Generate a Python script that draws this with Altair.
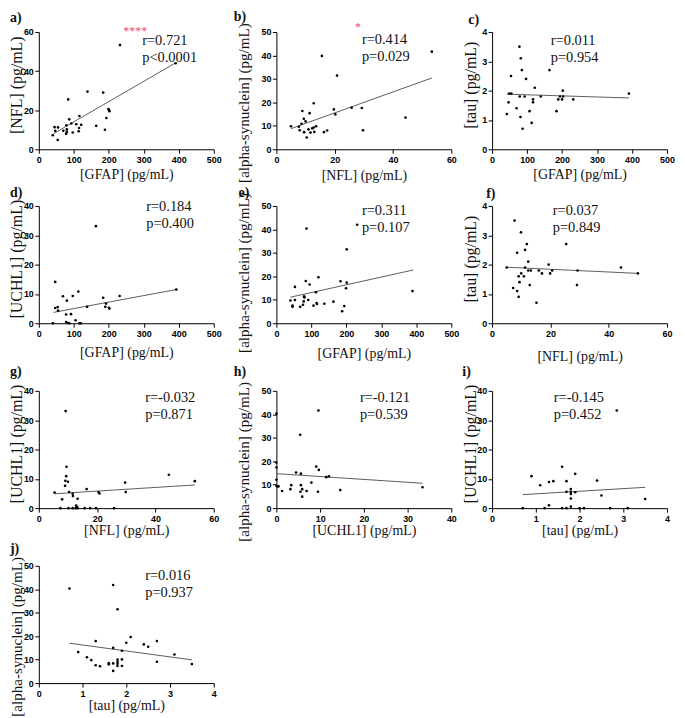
import altair as alt
import pandas as pd

# ---------------- data ----------------
# a) GFAP vs NFL
a_x = [232, 391, 139, 184, 84, 200, 202, 199, 116, 87, 193, 45, 55, 47, 79, 93, 107, 121, 164, 80, 80, 78, 70, 97, 114, 115, 189, 54, 40]
a_y = [53.3, 44.0, 29.5, 29.0, 25.5, 20.2, 19.5, 20.6, 17.0, 15.3, 16.0, 11.3, 11.2, 9.5, 12.3, 13.2, 12.8, 12.5, 12.0, 10.2, 8.9, 7.9, 9.5, 8.6, 9.2, 10.9, 10.0, 4.8, 7.2]
a_fx = [42, 391]
a_fy = [8.0, 44.2]

# b) NFL vs alpha-synuclein
b_x = [53.3, 15.6, 20.8, 12.8, 19.7, 20.2, 25.8, 29.3, 44.3, 29.7, 8.9, 11.4, 5.0, 7.7, 8.6, 9.4, 10.0, 8.0, 9.5, 10.4, 11.0, 11.7, 12.3, 13.0, 13.6, 12.8, 16.3, 17.4]
b_y = [41.6, 39.8, 31.4, 19.6, 17.0, 14.9, 17.7, 17.6, 13.5, 8.1, 16.3, 15.4, 9.8, 9.6, 10.9, 13.0, 11.9, 8.1, 7.3, 5.0, 8.5, 7.1, 8.9, 7.4, 9.8, 9.3, 7.3, 8.0]
b_fx = [5.0, 53.3]
b_fy = [8.8, 30.4]

# c) GFAP vs tau
c_x = [78, 82, 85, 164, 54, 97, 122, 49, 55, 79, 93, 139, 194, 203, 117, 117, 189, 200, 232, 202, 47, 70, 107, 184, 42, 81, 113, 87, 391]
c_y = [3.5, 3.1, 2.7, 2.7, 2.5, 2.4, 2.1, 1.9, 1.9, 1.8, 1.8, 1.8, 1.8, 1.8, 1.7, 1.6, 1.7, 1.7, 1.7, 2.0, 1.6, 1.4, 1.3, 1.3, 1.2, 1.1, 0.9, 0.7, 1.9]
c_fx = [42, 391]
c_fy = [1.88, 1.75]

# d) GFAP vs UCHL1
d_x = [163, 47, 69, 97, 113, 80, 184, 231, 192, 190, 200, 202, 138, 47, 54, 55, 78, 92, 105, 78, 83, 87, 116, 120, 40, 393]
d_y = [33.1, 14.1, 9.2, 9.3, 10.8, 7.7, 8.7, 9.3, 6.7, 5.6, 5.3, 5.0, 5.6, 5.2, 5.5, 4.3, 3.0, 3.1, 1.0, 0.4, 0.1, 0.0, 0.0, 0.0, 0.0, 11.5]
d_fx = [42, 393]
d_fy = [3.7, 11.5]

# e) GFAP vs alpha-synuclein
e_x = [86, 231, 201, 120, 84, 183, 201, 95, 53, 199, 113, 79, 80, 40, 53, 91, 78, 76, 46, 46, 68, 106, 115, 116, 137, 163, 194, 188, 389]
e_y = [40.4, 42.0, 31.5, 19.6, 18.0, 17.9, 17.3, 16.5, 15.5, 14.9, 13.2, 11.5, 11.0, 9.7, 9.9, 9.9, 9.3, 7.9, 7.5, 7.0, 7.0, 7.5, 8.6, 8.2, 8.3, 9.2, 7.3, 5.1, 13.7]
e_fx = [40, 391]
e_fy = [11.1, 22.7]

# f) NFL vs tau
f_x = [7.7, 9.9, 11.9, 25.4, 11.3, 8.6, 12.4, 5.0, 11.3, 19.4, 44.2, 12.4, 13.3, 16.0, 20.6, 29.3, 10.0, 17.1, 19.9, 50.0, 9.1, 10.9, 9.4, 12.9, 29.1, 7.2, 8.6, 9.1, 15.2]
f_y = [3.5, 3.1, 2.7, 2.7, 2.5, 2.4, 2.1, 1.9, 1.9, 2.0, 1.9, 1.8, 1.8, 1.8, 1.8, 1.8, 1.7, 1.7, 1.7, 1.7, 1.6, 1.6, 1.4, 1.3, 1.3, 1.2, 1.1, 0.9, 0.7]
f_fx = [5.0, 50.0]
f_fy = [1.91, 1.70]

# g) NFL vs UCHL1
g_x = [9.2, 9.5, 9.4, 9.1, 10.0, 9.0, 10.4, 11.6, 11.7, 5.4, 16.4, 13.3, 8.0, 20.5, 20.8, 29.6, 29.8, 44.6, 53.5, 12.8, 13.1, 7.4, 10.2, 11.6, 12.6, 13.3, 15.7, 17.6, 19.6, 25.8]
g_y = [33.1, 14.1, 10.9, 9.3, 9.0, 7.6, 5.5, 4.9, 4.1, 5.3, 6.5, 3.2, 3.0, 5.4, 5.0, 8.7, 5.5, 11.4, 9.2, 0.9, 0.4, 0.0, 0.0, 0.0, 0.0, 0.0, 0.0, 0.0, 0.0, 0.0]
g_fx = [5.4, 53.5]
g_fy = [4.9, 7.9]

# h) UCHL1 vs alpha-synuclein
h_x = [9.6, 5.45, 0.0, 0.0, 0.0, 0.0, 0.0, 0.2, 0.5, 1.3, 4.5, 5.6, 9.1, 9.7, 11.4, 12.0, 3.4, 3.2, 5.6, 5.9, 5.5, 5.9, 6.9, 8.0, 9.5, 14.6, 33.4]
h_y = [41.6, 31.3, 40.3, 19.4, 17.3, 12.1, 9.5, 9.2, 9.3, 7.3, 15.2, 14.7, 17.7, 16.3, 13.2, 13.6, 9.8, 8.1, 9.8, 8.1, 7.0, 4.9, 7.3, 10.9, 7.0, 7.7, 8.9]
h_fx = [0.0, 33.4]
h_fy = [14.7, 10.6]

# i) tau vs UCHL1
i_x = [2.85, 1.6, 0.9, 1.9, 1.1, 1.3, 1.4, 1.7, 2.4, 1.8, 1.8, 1.8, 1.7, 1.9, 2.5, 1.8, 3.5, 1.3, 1.8, 0.7, 1.2, 1.6, 1.7, 2.0, 2.1, 2.7, 3.1]
i_y = [33.3, 14.1, 10.9, 11.7, 7.8, 8.9, 9.2, 9.2, 9.4, 6.5, 5.6, 4.8, 5.6, 5.4, 4.3, 3.3, 3.1, 1.0, 0.5, 0.0, 0.0, 0.0, 0.0, 0.0, 0.0, 0.0, 0.0]
i_fx = [0.7, 3.5]
i_fy = [4.6, 7.1]

# j) tau vs alpha-synuclein
j_x = [0.7, 1.7, 1.8, 2.1, 2.0, 2.4, 2.5, 1.3, 2.7, 1.7, 1.9, 0.9, 3.1, 1.1, 1.2, 1.3, 1.4, 1.6, 1.6, 1.7, 1.8, 1.8, 1.8, 1.8, 1.9, 1.9, 2.7, 1.7, 3.5]
j_y = [40.3, 41.8, 31.5, 19.6, 17.2, 16.5, 15.5, 17.9, 17.9, 15.0, 13.8, 13.2, 12.2, 11.0, 9.8, 7.6, 7.2, 8.5, 8.0, 8.4, 10.0, 9.0, 8.2, 7.3, 10.1, 7.3, 9.1, 5.2, 8.1]
j_fx = [0.7, 3.5]
j_fy = [17.0, 9.9]

letters = ["a)", "b)", "c)", "d)", "e)", "f)", "g)", "h)", "i)", "j)"]
r_texts = ["r=0.721", "r=0.414", "r=0.011", "r=0.184", "r=0.311", "r=0.037", "r=-0.032", "r=-0.121", "r=-0.145", "r=0.016"]
p_texts = ["p<0.0001", "p=0.029", "p=0.954", "p=0.400", "p=0.107", "p=0.849", "p=0.871", "p=0.539", "p=0.452", "p=0.937"]
stars = ["****", "*", "", "", "", "", "", "", "", ""]

T_GFAP = "[GFAP] (pg/mL)"
T_NFL = "[NFL] (pg/mL)"
T_TAU = "[tau] (pg/mL)"
T_UCH = "[UCHL1] (pg/mL)"
T_ASYN = "[alpha-synuclein] (pg/mL)"

# ---------------- layout ----------------
W, H = 176, 118
GAP_AB, GAP_BC = 63, 41
ROW_GAPS = [57, 68, 58]

t500 = [0, 100, 200, 300, 400, 500]
t60 = [0, 20, 40, 60]
t4 = [0, 1, 2, 3, 4]
t40 = [0, 10, 20, 30, 40]
t50 = [0, 10, 20, 30, 40, 50]

SHORT_FS, LONG_FS = 16, 15.2
YS = H / 2 - 6   # vertical centre of the short y titles
YL = H / 2 + 12  # vertical centre of the alpha-synuclein titles

specs = [
    dict(x=a_x, y=a_y, fx=a_fx, fy=a_fy, xt=T_GFAP, yt=T_NFL, xd=500, xv=t500, yd=60, yv=t60,
         ytx=-22, yty=YS, yfs=SHORT_FS, xty=25, tx=104, ty=13, lx=-29, ly=-10, sx=97, sy=3),
    dict(x=b_x, y=b_y, fx=b_fx, fy=b_fy, xt=T_NFL, yt=T_ASYN, xd=60, xv=t60, yd=50, yv=t50,
         ytx=-33, yty=YL, yfs=LONG_FS, xty=26, tx=86, ty=12, lx=-43, ly=-11, sx=82, sy=-1),
    dict(x=c_x, y=c_y, fx=c_fx, fy=c_fy, xt=T_GFAP, yt=T_TAU, xd=500, xv=t500, yd=4, yv=t4,
         ytx=-22, yty=YS, yfs=SHORT_FS, xty=25, tx=59, ty=13, lx=-24, ly=-8, sx=0, sy=0),
    dict(x=d_x, y=d_y, fx=d_fx, fy=d_fy, xt=T_GFAP, yt=T_UCH, xd=500, xv=t500, yd=40, yv=t40,
         ytx=-22, yty=YS, yfs=SHORT_FS, xty=29, tx=108, ty=5, lx=-29, ly=-9, sx=0, sy=0),
    dict(x=e_x, y=e_y, fx=e_fx, fy=e_fy, xt=T_GFAP, yt=T_ASYN, xd=500, xv=t500, yd=50, yv=t50,
         ytx=-33, yty=H / 2 + 8, yfs=LONG_FS, xty=30, tx=86, ty=9, lx=-38, ly=-9, sx=0, sy=0),
    dict(x=f_x, y=f_y, fx=f_fx, fy=f_fy, xt=T_NFL, yt=T_TAU, xd=60, xv=t60, yd=4, yv=t4,
         ytx=-22, yty=YS, yfs=SHORT_FS, xty=33, tx=61, ty=9, lx=-6, ly=-8, sx=0, sy=0),
    dict(x=g_x, y=g_y, fx=g_fx, fy=g_fy, xt=T_NFL, yt=T_UCH, xd=60, xv=t60, yd=40, yv=t40,
         ytx=-22, yty=YS, yfs=SHORT_FS, xty=23, tx=107, ty=11, lx=-29, ly=-15, sx=0, sy=0),
    dict(x=h_x, y=h_y, fx=h_fx, fy=h_fy, xt=T_UCH, yt=T_ASYN, xd=40, xv=t40, yd=50, yv=t50,
         ytx=-33, yty=YL, yfs=LONG_FS, xty=23, tx=84, ty=11, lx=-43, ly=-15, sx=0, sy=0),
    dict(x=i_x, y=i_y, fx=i_fx, fy=i_fy, xt=T_TAU, yt=T_UCH, xd=4, xv=t4, yd=40, yv=t40,
         ytx=-22, yty=YS, yfs=SHORT_FS, xty=23, tx=62, ty=11, lx=-30, ly=-15, sx=0, sy=0),
    dict(x=j_x, y=j_y, fx=j_fx, fy=j_fy, xt=T_TAU, yt=T_ASYN, xd=4, xv=t4, yd=50, yv=t50,
         ytx=-22, yty=YL, yfs=LONG_FS, xty=23, tx=107, ty=14, lx=-29, ly=-13, sx=0, sy=0),
]

SERIF = "Liberation Serif"
SANS = "Liberation Sans"


def text_layer(txt, x, y, size, weight="normal", color="#111111", align="left"):
    return alt.Chart(pd.DataFrame({"t": [txt]})).mark_text(
        align=align, baseline="alphabetic", font=SERIF, fontSize=size,
        fontWeight=weight, color=color
    ).encode(text="t:N", x=alt.value(x), y=alt.value(y))


def axis_common(**kw):
    return alt.Axis(grid=False, labelOverlap=False, labelFlush=False, labelBound=False,
                    domainColor="black", domainWidth=1, tickColor="black", tickWidth=1,
                    tickSize=4, labelFont=SANS, labelFontWeight="bold", labelFontSize=9,
                    labelColor="black", titleFont=SERIF, titleFontWeight="normal",
                    titleColor="#111111", titleBaseline="middle", titleAlign="center", **kw)


def panel(k):
    s = specs[k]
    xs = alt.Scale(domain=[0, s["xd"]], nice=False, zero=False)
    ys = alt.Scale(domain=[0, s["yd"]], nice=False, zero=False)
    xax = axis_common(values=s["xv"], title=s["xt"], titleX=W / 2, titleY=s["xty"],
                      titleFontSize=14, labelPadding=2.5)
    yax = axis_common(values=s["yv"], title=s["yt"], titleX=s["ytx"], titleY=s["yty"],
                      titleAngle=270, titleFontSize=s["yfs"], labelPadding=1.5)
    pts = alt.Chart(pd.DataFrame({"x": s["x"], "y": s["y"]})).mark_circle(
        size=7, color="black", opacity=1
    ).encode(x=alt.X("x:Q", scale=xs, axis=xax), y=alt.Y("y:Q", scale=ys, axis=yax))
    fit = alt.Chart(pd.DataFrame({"x": s["fx"], "y": s["fy"]})).mark_line(
        color="#4a4a4a", strokeWidth=0.9
    ).encode(x=alt.X("x:Q", scale=xs, axis=xax), y=alt.Y("y:Q", scale=ys, axis=yax))
    layers = [fit, pts,
              text_layer(r_texts[k], s["tx"], s["ty"], 14.5),
              text_layer(p_texts[k], s["tx"], s["ty"] + 17, 14.5),
              text_layer(letters[k], s["lx"], s["ly"], 14, weight="bold")]
    if stars[k]:
        layers.append(text_layer(stars[k], s["sx"], s["sy"], 12, color="#e8544e", align="center"))
    return alt.layer(*layers).properties(width=W, height=H)


def spacer(w, h):
    return alt.Chart(pd.DataFrame({"v": [0]})).mark_point(opacity=0).encode(
        x=alt.value(0), y=alt.value(0)
    ).properties(width=w, height=h)


cells = []
rows = [[0, 1, 2], [3, 4, 5], [6, 7, 8], [9]]
for ri, row in enumerate(rows):
    for ci, k in enumerate(row):
        cells.append(panel(k))
        if ci < len(row) - 1:
            cells.append(spacer(GAP_AB if ci == 0 else GAP_BC, 1))
    if ri < len(ROW_GAPS):
        for w in [W, GAP_AB, W, GAP_BC, W]:
            cells.append(spacer(1, ROW_GAPS[ri]))

chart = alt.concat(*cells, columns=5, spacing=0, bounds="flush").properties(
    padding={"left": 0, "top": 0, "right": 2, "bottom": 0}
).configure_view(stroke=None)

chart.save("out.html", embed_options={"renderer": "svg", "actions": False})
